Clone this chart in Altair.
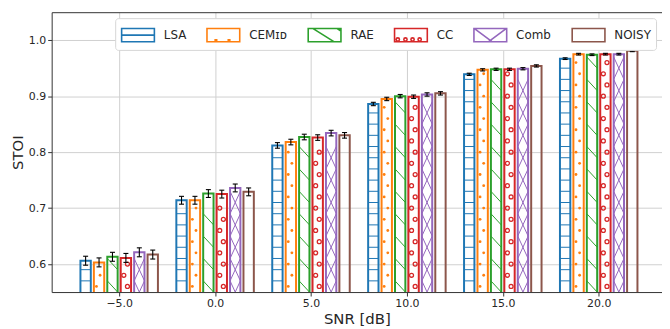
import altair as alt
import pandas as pd

# ---------------- data ----------------
snr_db = [-5, 0, 5, 10, 15, 20]
methods = ["LSA", "CEMɪᴅ", "RAE", "CC", "Comb", "NOISY"]
colors = ["#1f77b4", "#ff7f0e", "#2ca02c", "#d62728", "#9467bd", "#8c564b"]

stoi_lsa = [0.606, 0.714, 0.812, 0.886, 0.939, 0.967]
stoi_cem = [0.603, 0.714, 0.818, 0.895, 0.947, 0.975]
stoi_rae = [0.613, 0.726, 0.827, 0.900, 0.948, 0.974]
stoi_cc = [0.611, 0.725, 0.826, 0.899, 0.948, 0.975]
stoi_comb = [0.621, 0.736, 0.834, 0.903, 0.949, 0.975]
stoi_noisy = [0.617, 0.729, 0.830, 0.905, 0.954, 0.981]

err_lsa = [0.008, 0.007, 0.005, 0.003, 0.002, 0.0015]
err_cem = [0.008, 0.007, 0.005, 0.003, 0.002, 0.0015]
err_rae = [0.008, 0.007, 0.005, 0.003, 0.002, 0.0015]
err_cc = [0.008, 0.007, 0.005, 0.003, 0.002, 0.0015]
err_comb = [0.008, 0.007, 0.005, 0.003, 0.002, 0.0015]
err_noisy = [0.008, 0.007, 0.005, 0.003, 0.002, 0.0015]

all_stoi = [stoi_lsa, stoi_cem, stoi_rae, stoi_cc, stoi_comb, stoi_noisy]
all_err = [err_lsa, err_cem, err_rae, err_cc, err_comb, err_noisy]

# legend patch shapes (hatch look-alikes)
RECT = "M-1.5,-0.6H1.5V0.6H-1.5Z"
def circ(cx, cy, r=0.15):
    return f"M{cx - r},{cy}a{r},{r} 0 1,0 {2 * r},0a{r},{r} 0 1,0 {-2 * r},0"
legend_paths = [
    RECT + " M-1.5,0H1.5",
    RECT + " M-0.75,0.42h0.14v0.14h-0.14Z M0.45,0.42h0.14v0.14h-0.14Z",
    RECT + " M-1.05,-0.6L0.85,0.6 M1.15,-0.6L1.5,-0.38",
    RECT + " " + circ(-1.2, 0.4) + " " + circ(-0.5, 0.4) + " " + circ(0.15, 0.4) + " " + circ(0.8, 0.4),
    RECT + " M-1.45,-0.6L0.15,0.6 M-0.15,0.6L1.45,-0.6",
    RECT,
]

# ---------------- tables ----------------
rows = []
for i, m in enumerate(methods):
    for j, s in enumerate(snr_db):
        rows.append(dict(method=m, idx=i, snr=s, stoi=all_stoi[i][j],
                         err=all_err[i][j], col=colors[i]))
df = pd.DataFrame(rows)

BASE = 0.55
lines, dots, circles = [], [], []
for r in rows:
    top = r["stoi"]
    base = dict(method=r["method"], idx=r["idx"], snr=r["snr"], col=r["col"])
    if r["idx"] == 0:  # horizontal hatch
        k = 1
        while BASE + 0.02 * k < top - 0.004:
            y = BASE + 0.02 * k
            lines.append(dict(base, fa=-0.5, fb=0.5, ya=y, yb=y))
            k += 1
    elif r["idx"] == 1:  # dots
        k = 0
        while BASE + 0.01 + 0.02 * k < top - 0.005:
            dots.append(dict(base, fa=(-0.25 if k % 2 == 0 else 0.1), ya=BASE + 0.01 + 0.02 * k))
            k += 1
    elif r["idx"] == 2:  # back-diagonal hatch
        k = 0
        while BASE + 0.04 * k + 0.02 < top:
            L = BASE + 0.04 * k
            lines.append(dict(base, fa=-0.5, fb=0.5, ya=L + 0.02, yb=L))
            k += 1
    elif r["idx"] == 3:  # small circles
        k = 0
        while BASE + 0.01 + 0.02 * k < top - 0.006:
            circles.append(dict(base, fa=(0.15 if k % 2 == 0 else -0.2), ya=BASE + 0.01 + 0.02 * k))
            k += 1
    elif r["idx"] == 4:  # cross hatch
        k = 0
        while BASE + 0.04 * k + 0.02 <= top + 0.003:
            c = BASE + 0.04 * k
            lines.append(dict(base, fa=-0.5, fb=0.5, ya=c + 0.02, yb=c - 0.02))
            lines.append(dict(base, fa=-0.5, fb=0.5, ya=c - 0.02, yb=c + 0.02))
            k += 1
df_lines = pd.DataFrame(lines)
df_dots = pd.DataFrame(dots)
df_circ = pd.DataFrame(circles)
df_leg = pd.DataFrame(dict(method=methods))

PITCH = 0.7
BW = 0.54
center = f"datum.snr + (datum.idx - 2.5) * {PITCH}"

xscale = alt.Scale(domain=[-8.52, 23.3], nice=False, zero=False)
yscale = alt.Scale(domain=[0.55, 1.05], nice=False, zero=False)
FONT = "DejaVu Sans"

legend = alt.Legend(
    title=None, orient="top-right", offset=6, direction="horizontal", columns=6,
    symbolSize=484, symbolStrokeWidth=1.6, symbolOffset=6, labelOffset=14,
    labelFont=FONT, labelFontSize=12, labelColor="#262626",
    fillColor="white", strokeColor="#d6d6d6", cornerRadius=3, padding=5,
    columnPadding=17, symbolFillColor="transparent",
)
color_enc = alt.Color("method:N", scale=alt.Scale(domain=methods, range=colors), legend=legend)

bars = alt.Chart(df).transform_calculate(
    xl=f"{center} - {BW / 2}", xr=f"{center} + {BW / 2}"
).mark_bar(filled=False, strokeWidth=2, clip=True).encode(
    x=alt.X("xl:Q", scale=xscale,
            axis=alt.Axis(values=snr_db, format=".1f", title="SNR [dB]")),
    x2="xr:Q",
    y=alt.Y("stoi:Q", scale=yscale,
            axis=alt.Axis(values=[0.6, 0.7, 0.8, 0.9, 1.0], format=".1f", title="STOI")),
    y2=alt.datum(0.5),
    color=color_enc,
)

hatch = alt.Chart(df_lines).transform_calculate(
    xa=f"{center} + datum.fa * {BW}", xb=f"{center} + datum.fb * {BW}"
).mark_rule(strokeWidth=1, clip=True).encode(
    x=alt.X("xa:Q", scale=xscale, axis=None), x2="xb:Q",
    y=alt.Y("ya:Q", scale=yscale, axis=None), y2="yb:Q",
    stroke=alt.Stroke("col:N", scale=None),
)

dot_layer = alt.Chart(df_dots).transform_calculate(
    xa=f"{center} + datum.fa * {BW}"
).mark_point(filled=True, size=8, opacity=1, clip=True).encode(
    x=alt.X("xa:Q", scale=xscale, axis=None),
    y=alt.Y("ya:Q", scale=yscale, axis=None),
    fill=alt.Fill("col:N", scale=None),
)

circ_layer = alt.Chart(df_circ).transform_calculate(
    xa=f"{center} + datum.fa * {BW}"
).mark_point(filled=False, size=16, strokeWidth=1.3, opacity=1, clip=True).encode(
    x=alt.X("xa:Q", scale=xscale, axis=None),
    y=alt.Y("ya:Q", scale=yscale, axis=None),
    stroke=alt.Stroke("col:N", scale=None),
)

err_base = alt.Chart(df).transform_calculate(
    xc=center, cl=f"{center} - 0.13", cr=f"{center} + 0.13",
    lo="datum.stoi - datum.err", hi="datum.stoi + datum.err",
)
err_v = err_base.mark_rule(color="black", strokeWidth=1.1).encode(
    x=alt.X("xc:Q", scale=xscale, axis=None),
    y=alt.Y("lo:Q", scale=yscale, axis=None), y2="hi:Q",
)
cap_hi = err_base.mark_rule(color="black", strokeWidth=1.1).encode(
    x=alt.X("cl:Q", scale=xscale, axis=None), x2="cr:Q",
    y=alt.Y("hi:Q", scale=yscale, axis=None),
)
cap_lo = err_base.mark_rule(color="black", strokeWidth=1.1).encode(
    x=alt.X("cl:Q", scale=xscale, axis=None), x2="cr:Q",
    y=alt.Y("lo:Q", scale=yscale, axis=None),
)

legend_layer = alt.Chart(df_leg).mark_point(filled=False, clip=True).encode(
    x=alt.X(datum=-100, type="quantitative", scale=xscale, axis=None),
    y=alt.Y(datum=0, type="quantitative", scale=yscale, axis=None),
    color=color_enc,
    shape=alt.Shape("method:N", scale=alt.Scale(domain=methods, range=legend_paths), legend=legend),
)

top_frame = alt.Chart(df).transform_calculate(xc=center).mark_point(opacity=0).encode(
    x=alt.X("xc:Q", scale=xscale,
            axis=alt.Axis(orient="top", labels=False, ticks=False, grid=False,
                          title=None, domain=True)),
    y=alt.Y("stoi:Q", scale=yscale, axis=None),
)

chart = alt.layer(
    bars, hatch, dot_layer, circ_layer, err_v, cap_hi, cap_lo, legend_layer, top_frame
).resolve_axis(x="independent", y="independent").properties(
    width=615, height=282,
    padding={"left": 44, "top": 3, "right": 0, "bottom": 36},
    autosize="none",
).configure_view(stroke=None).configure_axis(
    labelFont=FONT, titleFont=FONT, labelFontSize=11, titleFontSize=15,
    titleFontWeight="normal", labelColor="#262626", titleColor="#262626",
    domainColor="#333333", tickColor="#333333", tickSize=4, labelPadding=2,
    gridColor="#d0d0d0", gridWidth=1, titlePadding=3,
)

chart.save("out.html", embed_options={"renderer": "svg", "actions": False})
